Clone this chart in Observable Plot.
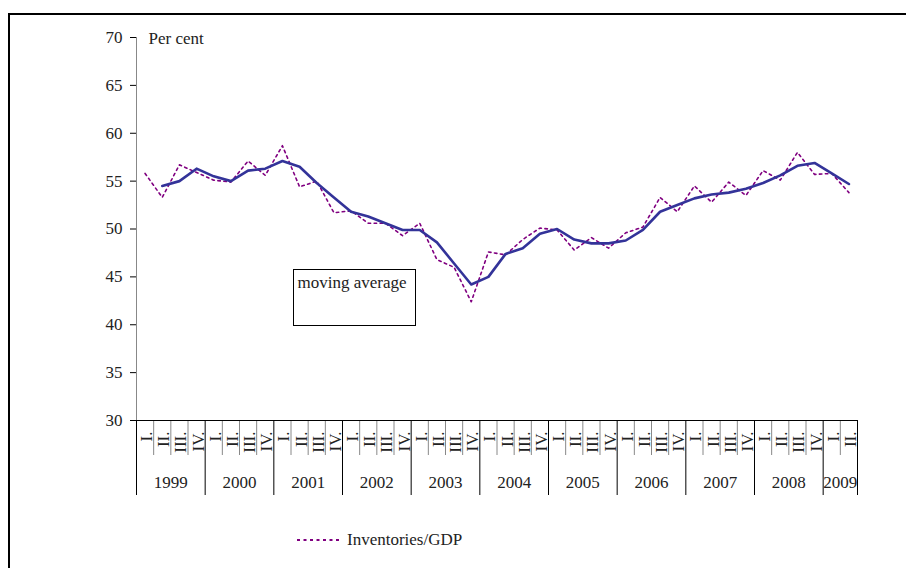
<!DOCTYPE html>
<html>
<head>
<meta charset="utf-8">
<script src="https://cdn.jsdelivr.net/npm/d3@7"></script>
<script src="https://cdn.jsdelivr.net/npm/@observablehq/plot@0.6"></script>
<style>
  html, body { margin: 0; padding: 0; background: white; }
  body { width: 906px; height: 568px; position: relative; overflow: hidden; font-family: 'Liberation Serif', serif; }
  #frame { position: absolute; left: 8px; top: 13px; width: 910px; height: 570px; border-left: 2px solid #000; border-top: 2px solid #000; z-index: 2; }
  #chart { position: absolute; left: 0; top: 0; }
  #legend { position: absolute; left: 297px; top: 530px; height: 20px; display: flex; align-items: center; gap: 7px; font-size: 17px; color: #222; }
</style>
</head>
<body>
<div id="frame"></div>
<div id="chart"></div>
<div id="legend"><svg width="43" height="4"><line x1="0" y1="2" x2="43" y2="2" stroke="#800080" stroke-width="2" stroke-dasharray="3,3.5"/></svg><span>Inventories/GDP</span></div>
<script>
const years = [1999, 2000, 2001, 2002, 2003, 2004, 2005, 2006, 2007, 2008, 2009];
const quarterLabels = ["I.", "II.", "III.", "IV."];
const invGdp = [
  55.8, 53.3, 56.7, 55.9,
  55.1, 54.9, 57.1, 55.6,
  58.7, 54.4, 55.0, 51.7,
  51.9, 50.6, 50.6, 49.3,
  50.6, 46.8, 46.0, 42.4,
  47.6, 47.3, 48.9, 50.1,
  49.9, 47.8, 49.1, 48.0,
  49.6, 50.2, 53.3, 51.8,
  54.5, 52.8, 54.9, 53.5,
  56.1, 55.1, 58.0, 55.7,
  55.8, 53.8
];
const movingAvg = [
  null, 54.5, 55.0, 56.3,
  55.5, 55.0, 56.1, 56.3,
  57.1, 56.5, 54.8, 53.3,
  51.8, 51.3, 50.6, 49.9,
  49.9, 48.6, 46.4, 44.2,
  45.0, 47.4, 48.0, 49.5,
  50.0, 48.9, 48.5, 48.5,
  48.8, 49.9, 51.8, 52.5,
  53.2, 53.6, 53.8, 54.2,
  54.8, 55.6, 56.6, 56.9,
  55.8, 54.7
];
const yTicks = [30, 35, 40, 45, 50, 55, 60, 65, 70];

const nQ = invGdp.length;
const periods = invGdp.map((v, i) => ({
  pos: i + 0.5,
  year: years[Math.floor(i / 4)],
  q: quarterLabels[i % 4],
  inv: v,
  ma: movingAvg[i]
}));
const qBounds = d3.range(1, nQ).filter(i => i % 4 !== 0);
const yBounds = d3.range(0, nQ + 1, 4).concat(nQ % 4 ? [nQ] : []);
const yearCenters = years.map((y, k) => ({ year: String(y), pos: (k * 4 + Math.min(nQ, k * 4 + 4)) / 2 }));

const chart = Plot.plot({
  width: 906,
  height: 505,
  marginTop: 37,
  marginBottom: 85,
  marginLeft: 136,
  marginRight: 49,
  style: { fontFamily: "'Liberation Serif', serif", fontSize: "17px", color: "#222", background: "transparent", overflow: "visible" },
  x: { type: "linear", domain: [0, nQ], axis: null },
  y: { domain: [30, 70], axis: null },
  marks: [
    Plot.ruleX([0], { stroke: "#888", strokeWidth: 1 }),
    Plot.axisY({ ticks: yTicks, tickSize: 6, tickPadding: 8, label: null, stroke: "#000", fill: "#222" }),
    Plot.axisX({ ticks: qBounds, tickSize: 35, tickFormat: () => "", stroke: "#888", label: null }),
    Plot.axisX({ ticks: yBounds, tickSize: 75, tickFormat: () => "", stroke: "#000", label: null }),
    Plot.ruleY([30], { stroke: "#000", strokeWidth: 1 }),
    Plot.text(periods, { x: "pos", text: "q", frameAnchor: "bottom", dy: 11, dx: 1.5, rotate: -90, textAnchor: "end", lineAnchor: "middle", fill: "#222" }),
    Plot.text(yearCenters, { x: "pos", text: "year", frameAnchor: "bottom", dy: 62, lineAnchor: "middle", fill: "#222" }),
    Plot.text(["Per cent"], { frameAnchor: "top-left", dx: 12, dy: 1, textAnchor: "start", lineAnchor: "middle", fill: "#222" }),
    Plot.line(periods, { x: "pos", y: "inv", stroke: "#800080", strokeWidth: 1.6, strokeDasharray: "2.5,3.5" }),
    Plot.line(periods, { x: "pos", y: "ma", stroke: "#333399", strokeWidth: 2.6 }),
    Plot.frame({ insetLeft: 157, insetRight: 442, insetTop: 232, insetBottom: 95, stroke: "#000", strokeWidth: 1 }),
    Plot.text(["moving average"], { frameAnchor: "top-left", dx: 161, dy: 245.5, textAnchor: "start", lineAnchor: "middle", fill: "#222" })
  ]
});
document.getElementById("chart").appendChild(chart);
</script>
</body>
</html>
